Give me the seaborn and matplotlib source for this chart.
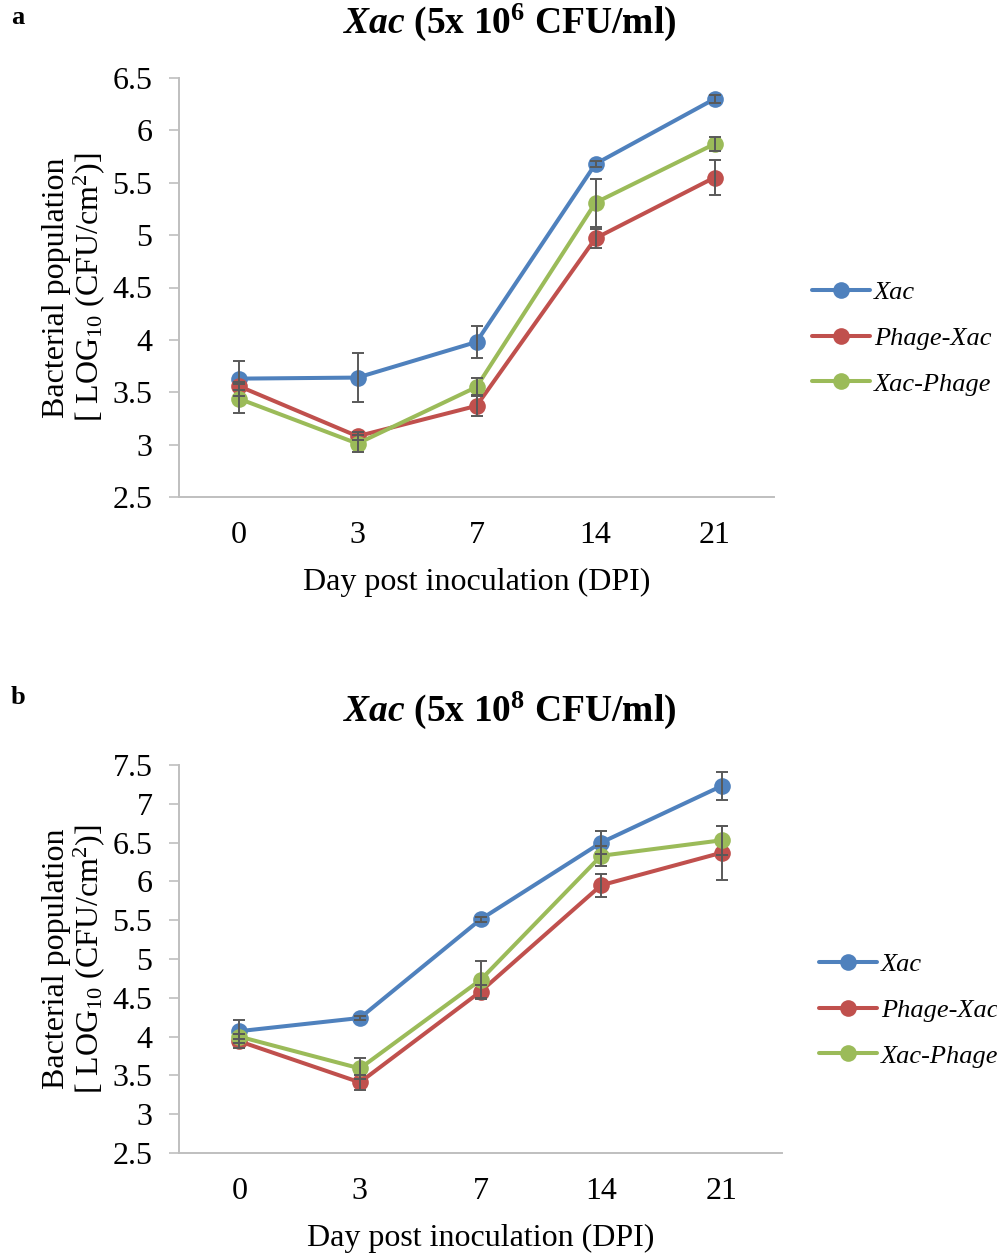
import numpy as np
import pandas as pd
import matplotlib
matplotlib.use("Agg")
import matplotlib.pyplot as plt
import seaborn as sns
from matplotlib.lines import Line2D

# ---- data ----
days = ["0", "3", "7", "14", "21"]
series = ["Xac", "Phage-Xac", "Xac-Phage"]

a_xac = [3.63, 3.64, 3.98, 5.68, 6.30]
a_phage_xac = [3.56, 3.08, 3.37, 4.97, 5.55]
a_xac_phage = [3.44, 3.01, 3.55, 5.31, 5.87]
a_err_xac = [0.17, 0.23, 0.15, 0.03, 0.04]
a_err_phage_xac = [0.04, 0.04, 0.10, 0.09, 0.17]
a_err_xac_phage = [0.14, 0.08, 0.09, 0.23, 0.07]

b_xac = [4.07, 4.24, 5.51, 6.50, 7.23]
b_phage_xac = [3.94, 3.41, 4.58, 5.95, 6.37]
b_xac_phage = [4.00, 3.59, 4.73, 6.33, 6.53]
b_err_xac = [0.15, 0.03, 0.03, 0.15, 0.18]
b_err_phage_xac = [0.09, 0.10, 0.08, 0.145, 0.35]
b_err_xac_phage = [0.03, 0.13, 0.24, 0.13, 0.19]

titles_exp = ["6", "8"]
panel_letters = ["a", "b"]

colors = {"Xac": "#4F81BD", "Phage-Xac": "#C0504D", "Xac-Phage": "#9BBB59"}

sns.set_theme(style="white")
plt.rcParams["font.family"] = ["Liberation Serif", "DejaVu Serif"]
plt.rcParams["text.color"] = "black"
plt.rcParams["axes.labelcolor"] = "black"
plt.rcParams["xtick.color"] = "black"
plt.rcParams["ytick.color"] = "black"
plt.rcParams["mathtext.fontset"] = "custom"
plt.rcParams["mathtext.rm"] = "Liberation Serif"
plt.rcParams["mathtext.it"] = "Liberation Serif:italic"
plt.rcParams["mathtext.bf"] = "Liberation Serif:bold"
plt.rcParams["mathtext.bfit"] = "Liberation Serif:italic:bold"

fig = plt.figure(figsize=(9.97, 12.55), dpi=100)

panels = [
    dict(vals=[a_xac, a_phage_xac, a_xac_phage], errs=[a_err_xac, a_err_phage_xac, a_err_xac_phage],
         rect=[179/997, 1-497/1255, 595/997, 419/1255], ylim=(2.5, 6.5),
         title_y=1-22/1255, letter_y=1-18/1255, leg=(812/997, 1-338/1255)),
    dict(vals=[b_xac, b_phage_xac, b_xac_phage], errs=[b_err_xac, b_err_phage_xac, b_err_xac_phage],
         rect=[179/997, 1-1153/1255, 603/997, 388/1255], ylim=(2.5, 7.5),
         title_y=1-710/1255, letter_y=1-697/1255, leg=(819/997, 1-1010/1255)),
]

grey = "#BFBFBF"
for p, exp, letter in zip(panels, titles_exp, panel_letters):
    ax = fig.add_axes(p["rect"])
    rows = []
    for s, v in zip(series, p["vals"]):
        for i, d in enumerate(days):
            rows.append(dict(pos=i, day=d, series=s, value=v[i]))
    df = pd.DataFrame(rows)
    sns.lineplot(data=df, x="pos", y="value", hue="series", hue_order=series,
                 palette=colors, marker="o", markersize=12, linewidth=2.9,
                 markeredgewidth=0, ax=ax, legend=False, zorder=3)
    for s, v, e in zip(series, p["vals"], p["errs"]):
        ax.errorbar(np.arange(len(days)), v, yerr=e, fmt="none", ecolor="#595959",
                    elinewidth=1.4, capsize=4.5, capthick=1.4, zorder=4)
    ax.set_xlim(-0.5, len(days) - 0.5)
    ax.set_ylim(*p["ylim"])
    yt = np.arange(p["ylim"][0], p["ylim"][1] + 0.01, 0.5)
    ax.set_yticks(yt)
    ax.set_yticklabels([f"{t:g}" for t in yt])
    ax.set_xticks(range(len(days)))
    ax.set_xticklabels(days)
    ax.set_xticks(np.arange(-0.5, len(days)), minor=True)
    ax.tick_params(axis="x", which="major", length=0, pad=17, labelsize=23)
    ax.tick_params(axis="x", which="minor", length=7, width=1.2, color=grey, direction="out")
    ax.tick_params(axis="y", which="major", length=7, width=1.2, color=grey, direction="out",
                   labelsize=23, pad=12, left=True)
    for sp in ["top", "right"]:
        ax.spines[sp].set_visible(False)
    for sp in ["left", "bottom"]:
        ax.spines[sp].set_color(grey)
        ax.spines[sp].set_linewidth(1.4)
    ax.grid(False)
    ax.set_xlabel("Day post inoculation (DPI)", fontsize=23, labelpad=13)
    ax.set_ylabel("Bacterial population\n[ LOG$_{10}$ (CFU/cm$^{2}$)]", fontsize=23,
                  labelpad=4, linespacing=1.0)
    fig.text(510/997, p["title_y"],
             r"$\mathbfit{Xac}$ (5x 10$^{\mathbf{" + exp + r"}}$ CFU/ml)",
             ha="center", va="center", fontsize=27, fontweight="bold")
    fig.text(11/997, p["letter_y"], letter, ha="left", va="center", fontsize=19, fontweight="bold")
    handles = [Line2D([0], [0], color=colors[s], lw=2.9, marker="o", markersize=12,
                      markeredgewidth=0) for s in series]
    fig.legend(handles, series, loc="center left", bbox_to_anchor=p["leg"], frameon=False,
               prop=dict(family="Liberation Serif", style="italic", size=19),
               handlelength=2.2, handletextpad=0.15, labelspacing=0.85, borderaxespad=0,
               borderpad=0)

fig.savefig("out.png", dpi=100)
